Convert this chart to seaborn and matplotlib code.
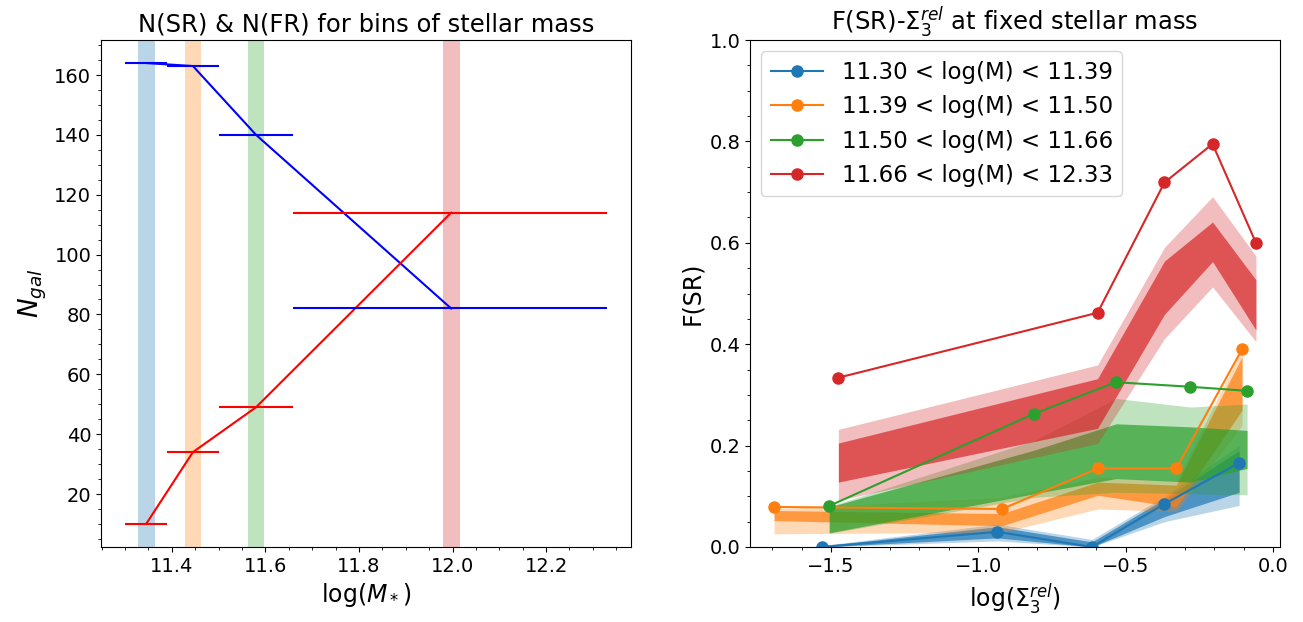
import numpy as np
import pandas as pd
import matplotlib
matplotlib.use("Agg")
import matplotlib.pyplot as plt
from matplotlib.ticker import MultipleLocator
import seaborn as sns

# ---------------- Left panel data ----------------
mass_centers = [11.345, 11.445, 11.58, 11.997]
bin_lo = [11.30, 11.39, 11.50, 11.66]
bin_hi = [11.39, 11.50, 11.66, 12.33]
n_blue = [164, 163, 140, 82]
n_red = [10, 34, 49, 114]
band_halfwidth = 0.018

# ---------------- Right panel data ----------------
labels = ["11.30 < log(M) < 11.39", "11.39 < log(M) < 11.50",
          "11.50 < log(M) < 11.66", "11.66 < log(M) < 12.33"]
colors = ["tab:blue", "tab:orange", "tab:green", "tab:red"]

x_b = [-1.532, -0.936, -0.615, -0.369, -0.116]
f_b = [0.0, 0.030, 0.0, 0.085, 0.166]
b_lo2 = [0.0, 0.012, 0.0, 0.050, 0.082]
b_hi2 = [0.003, 0.045, 0.015, 0.100, 0.200]
b_lo1 = [0.0, 0.018, 0.0, 0.060, 0.108]
b_hi1 = [0.002, 0.040, 0.010, 0.095, 0.190]

x_o = [-1.693, -0.920, -0.595, -0.329, -0.106]
f_o = [0.079, 0.075, 0.155, 0.155, 0.390]
o_lo2 = [0.026, 0.029, 0.075, 0.070, 0.240]
o_hi2 = [0.075, 0.098, 0.138, 0.130, 0.390]
o_lo1 = [0.052, 0.042, 0.102, 0.079, 0.270]
o_hi1 = [0.072, 0.066, 0.128, 0.122, 0.375]

x_g = [-1.506, -0.811, -0.533, -0.281, -0.089]
f_g = [0.081, 0.263, 0.325, 0.316, 0.308]
g_lo2 = [0.027, 0.098, 0.108, 0.105, 0.103]
g_hi2 = [0.080, 0.210, 0.293, 0.276, 0.282]
g_lo1 = [0.028, 0.105, 0.135, 0.128, 0.155]
g_hi1 = [0.079, 0.191, 0.243, 0.237, 0.230]

x_r = [-1.475, -0.596, -0.369, -0.206, -0.059]
f_r = [0.334, 0.462, 0.719, 0.795, 0.600]
r_lo2 = [0.092, 0.204, 0.411, 0.513, 0.405]
r_hi2 = [0.232, 0.359, 0.591, 0.691, 0.574]
r_lo1 = [0.128, 0.234, 0.459, 0.563, 0.428]
r_hi1 = [0.205, 0.332, 0.564, 0.641, 0.527]

xs = [x_b, x_o, x_g, x_r]
fs = [f_b, f_o, f_g, f_r]
lo2s = [b_lo2, o_lo2, g_lo2, r_lo2]
hi2s = [b_hi2, o_hi2, g_hi2, r_hi2]
lo1s = [b_lo1, o_lo1, g_lo1, r_lo1]
hi1s = [b_hi1, o_hi1, g_hi1, r_hi1]

# ---------------- Figure ----------------
fig, (ax1, ax2) = plt.subplots(1, 2, figsize=(13.03, 6.22), dpi=100)
fig.subplots_adjust(left=101/1303, right=1280/1303, top=1-40/622,
                    bottom=1-547/622, wspace=0.2245)

# Left panel
for c, col in zip(mass_centers, colors):
    ax1.axvspan(c - band_halfwidth, c + band_halfwidth, color=col, alpha=0.3, lw=0)

xerr = [np.array(mass_centers) - np.array(bin_lo), np.array(bin_hi) - np.array(mass_centers)]
df_l = pd.DataFrame({"m": mass_centers, "blue": n_blue, "red": n_red})
sns.lineplot(data=df_l, x="m", y="blue", color="b", lw=1.5, ax=ax1, sort=False)
sns.lineplot(data=df_l, x="m", y="red", color="r", lw=1.5, ax=ax1, sort=False)
ax1.errorbar(mass_centers, n_blue, xerr=xerr, fmt="none", ecolor="b", elinewidth=1.5)
ax1.errorbar(mass_centers, n_red, xerr=xerr, fmt="none", ecolor="r", elinewidth=1.5)
ax1.set_title("N(SR) & N(FR) for bins of stellar mass", fontsize=17.5)
ax1.set_xlabel(r"log($M_*$)", fontsize=17)
ax1.set_ylabel(r"$N_{gal}$", fontsize=19)
ax1.set_xticks([11.4, 11.6, 11.8, 12.0, 12.2])
ax1.minorticks_on()
ax1.tick_params(labelsize=14)

# Right panel
for x, f, lo2, hi2, lo1, hi1, col, lab in zip(xs, fs, lo2s, hi2s, lo1s, hi1s, colors, labels):
    ax2.fill_between(x, lo2, hi2, color=col, alpha=0.3, lw=0)
    ax2.fill_between(x, lo1, hi1, color=col, alpha=0.7, lw=0)
for x, f, col, lab in zip(xs, fs, colors, labels):
    sns.lineplot(x=x, y=f, color=col, marker="o", markersize=8, lw=1.5,
                 markeredgecolor=col, markeredgewidth=1, label=lab, ax=ax2, sort=False)
ax2.set_ylim(0, 1.0)
ax2.xaxis.set_major_locator(MultipleLocator(0.5))
ax2.xaxis.set_minor_locator(MultipleLocator(0.1))
ax2.yaxis.set_minor_locator(MultipleLocator(0.05))
ax2.set_title(r"F(SR)-$\Sigma_3^{rel}$ at fixed stellar mass", fontsize=17.5)
ax2.set_xlabel(r"log($\Sigma_3^{rel}$)", fontsize=17)
ax2.set_ylabel("F(SR)", fontsize=17)
ax2.tick_params(labelsize=14)
ax2.legend(loc="upper left", fontsize=16.5, handlelength=2.3)

fig.savefig("out.png", dpi=100)
